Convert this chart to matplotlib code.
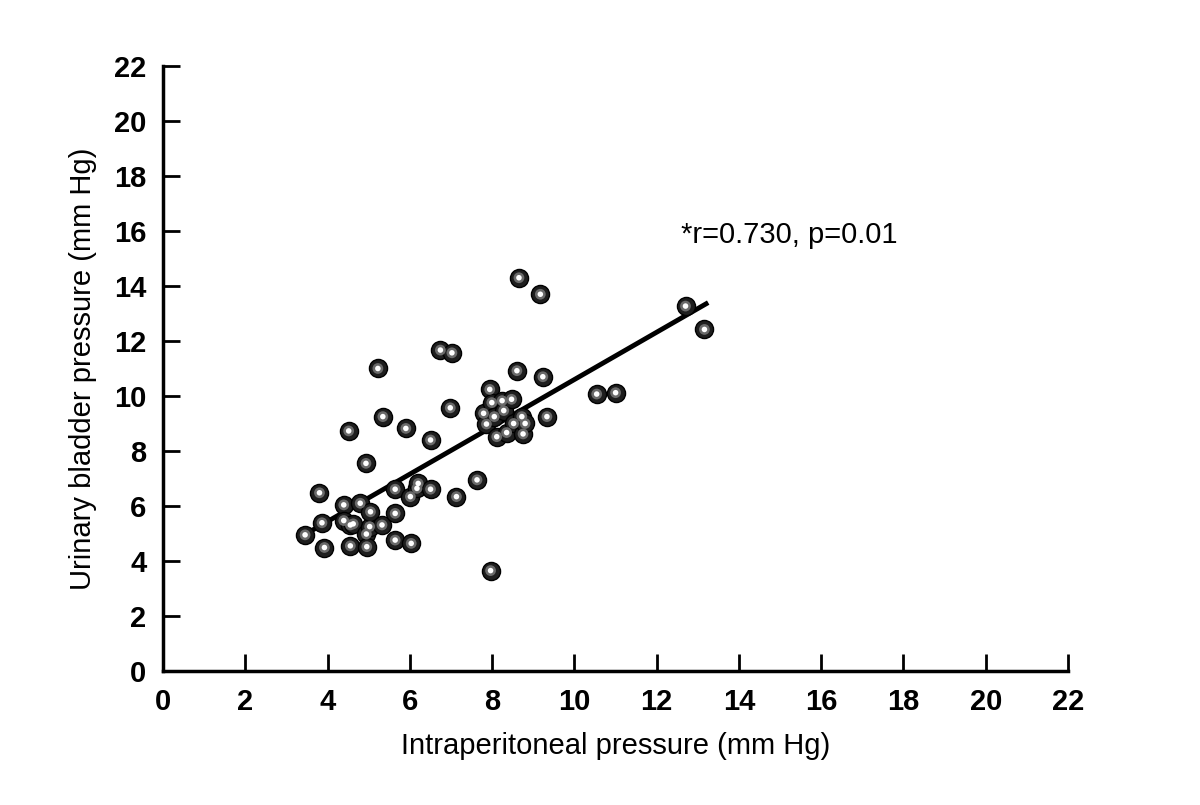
import matplotlib
matplotlib.use("Agg")
import matplotlib.pyplot as plt
import numpy as np

plt.rcParams['font.family'] = ['Liberation Sans', 'DejaVu Sans']

ip_pressure = [3.45, 3.80, 3.86, 3.92, 4.39, 4.39, 4.51, 4.55, 4.62, 4.55,
               4.79, 4.93, 4.94, 4.95, 5.02, 5.04, 5.22, 5.32, 5.34, 5.64,
               5.64, 5.64, 5.90, 6.01, 6.03, 6.17, 6.20, 6.50, 6.50, 6.74,
               6.98, 7.02, 7.13, 7.63, 7.79, 7.86, 7.94, 7.96, 7.99, 8.05,
               8.11, 8.24, 8.28, 8.35, 8.47, 8.52, 8.60, 8.65, 8.72, 8.75,
               8.80, 9.17, 9.23, 9.33, 10.54, 11.00, 12.70, 13.16]
ub_pressure = [4.95, 6.48, 5.39, 4.49, 6.04, 5.47, 8.73, 5.31, 5.35, 4.55,
               6.10, 7.55, 4.98, 4.52, 5.25, 5.79, 11.00, 5.31, 9.25, 6.61,
               5.73, 4.76, 8.82, 6.34, 4.64, 6.64, 6.82, 8.40, 6.61, 11.67,
               9.57, 11.57, 6.34, 6.95, 9.37, 8.98, 10.24, 3.65, 9.76, 9.25,
               8.52, 9.83, 9.47, 8.67, 9.88, 9.00, 10.92, 14.30, 9.25, 8.62,
               9.00, 13.70, 10.70, 9.25, 10.07, 10.12, 13.27, 12.42]

fit_intercept = 2.0
fit_slope = 0.86
fit_range = [3.5, 13.2]

ticks = list(range(0, 23, 2))
annotation = "*r=0.730, p=0.01"

fig = plt.figure(figsize=(12, 8.05), dpi=100)
ax = fig.add_axes([0.136, 0.1665, 0.754, 0.7515])

fx = np.array(fit_range)
ax.plot(fx, fit_intercept + fit_slope * fx, color='black', lw=3.5, zorder=2)

ax.scatter(ip_pressure, ub_pressure, s=170, facecolor='#1e1e1e', edgecolor='black',
           linewidths=1.0, zorder=3)
ax.scatter(ip_pressure, ub_pressure, s=60, facecolor='#6a6a6a', edgecolor='none',
           zorder=4)
ax.scatter(ip_pressure, ub_pressure, s=16, facecolor='white', edgecolor='none',
           zorder=5)

ax.set_xlim(0, 22)
ax.set_ylim(0, 22)
ax.set_xticks(ticks)
ax.set_yticks(ticks)
for s in ['top', 'right']:
    ax.spines[s].set_visible(False)
for s in ['left', 'bottom']:
    ax.spines[s].set_linewidth(2.5)
ax.tick_params(direction='in', length=12, width=2, labelsize=21, pad=12)
for lab in ax.get_xticklabels() + ax.get_yticklabels():
    lab.set_fontweight('bold')

ax.set_xlabel("Intraperitoneal pressure (mm Hg)", fontsize=21, labelpad=12)
ax.set_ylabel("Urinary bladder pressure (mm Hg)", fontsize=21, labelpad=12)

ax.text(12.6, 15.55, annotation, fontsize=21)

fig.savefig("out.png", dpi=100)
